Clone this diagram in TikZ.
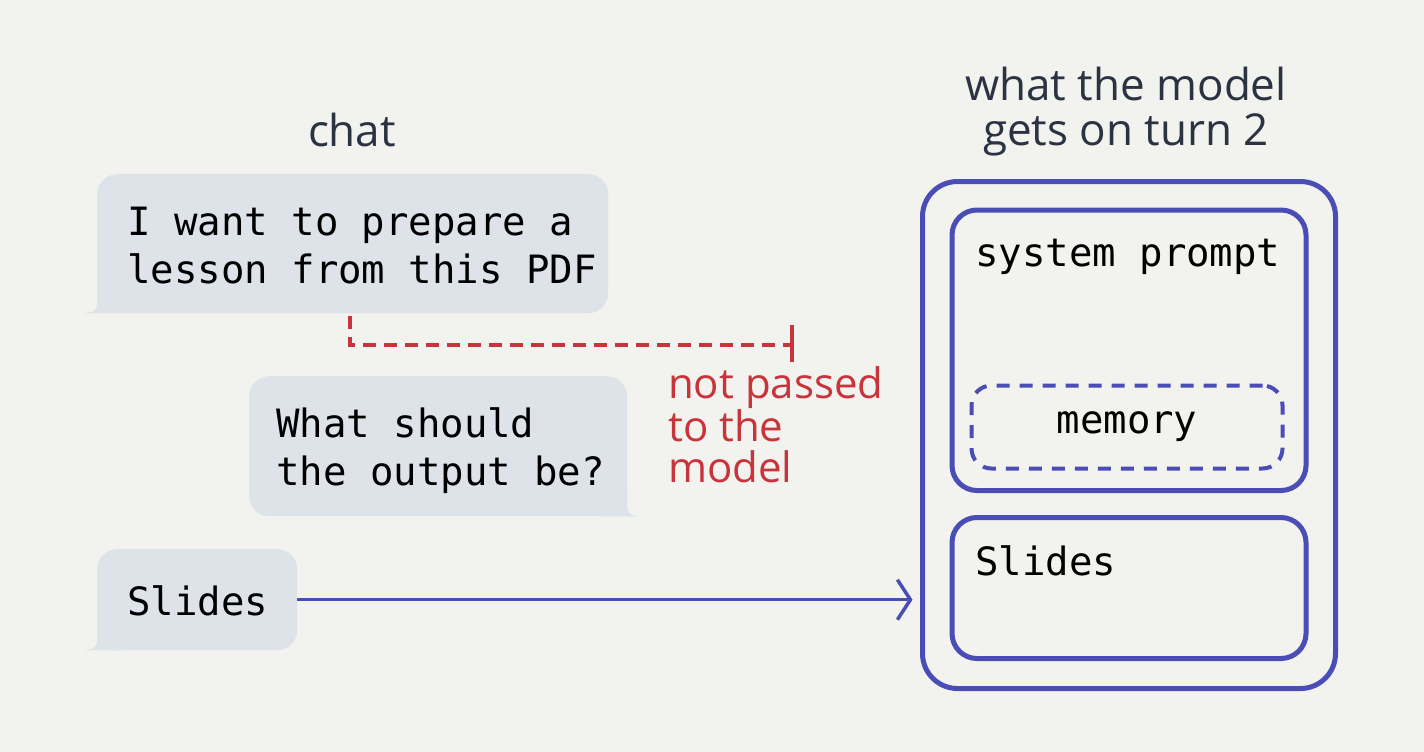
\documentclass[tikz,border=0pt]{standalone}
\usepackage{fontspec}
\setmainfont{Open Sans}
\newfontfamily\monofont{DejaVu Sans Mono}
\usetikzlibrary{arrows.meta,calc}
\definecolor{bg}{HTML}{F2F3EE}
\definecolor{bubblefill}{HTML}{DEE3EA}
\definecolor{ink}{HTML}{2B3242}
\definecolor{accent}{HTML}{4B4DB7}
\definecolor{stopred}{HTML}{C8343B}
\begin{document}
\begin{tikzpicture}[x=1pt,y=-1pt,
  bubble/.style={fill=bubblefill, rounded corners=20pt, inner sep=0pt, anchor=north west},
  bubbletext/.style={font=\monofont\fontsize{39}{48}\selectfont, align=left, text=black, inner sep=0pt, anchor=base west},
  heading/.style={font=\fontsize{44}{45}\selectfont, text=ink, align=center},
  redtext/.style={font=\fontsize{42}{41}\selectfont, text=stopred, align=left, inner sep=0pt},
  mono/.style={font=\monofont\fontsize{39}{48}\selectfont, text=black, inner sep=0pt},
  bluebox/.style={draw=accent, line width=5pt, anchor=north west, inner sep=0pt},
  flow/.style={draw=accent, line width=3.5pt, -{Straight Barb[length=13pt, width=40pt, line width=3.5pt]}},
  stopline/.style={draw=stopred, line width=3.2pt, dash pattern=on 13pt off 8pt}
]
\fill[bg] (0,0) rectangle (1424,752);
\useasboundingbox (0,0) rectangle (1424,752);

% headings
\node[heading, anchor=base] (chat) at (352,146) {chat};
\node[heading, anchor=base] (title) at (1126,145) {what the model\\gets on turn 2};

% bubbles
\node[bubble, minimum width=511pt, minimum height=139pt] (b1) at (97,174) {};
\fill[bubblefill] ($(b1.south west)+(0,-25)$) -- ($(b1.south west)+(0,-8)$)
  .. controls ($(b1.south west)+(-2,-2)$) .. ($(b1.south west)+(-14,0)$)
  -- ($(b1.south west)+(25,0)$) -- cycle;
\node[bubbletext] (t1) at (127,283) {I want to prepare a\\lesson from this PDF};

\node[bubble, minimum width=378pt, minimum height=140pt] (b2) at (249,376) {};
\fill[bubblefill] ($(b2.south east)+(0,-25)$) -- ($(b2.south east)+(0,-8)$)
  .. controls ($(b2.south east)+(2,-2)$) .. ($(b2.south east)+(11,0)$)
  -- ($(b2.south east)+(-25,0)$) -- cycle;
\node[bubbletext] (t2) at (276,485) {What should\\the output be?};

\node[bubble, minimum width=200pt, minimum height=101pt] (b3) at (97,549) {};
\fill[bubblefill] ($(b3.south west)+(0,-25)$) -- ($(b3.south west)+(0,-8)$)
  .. controls ($(b3.south west)+(-2,-2)$) .. ($(b3.south west)+(-14,0)$)
  -- ($(b3.south west)+(25,0)$) -- cycle;
\node[bubbletext] (t3) at (127,615) {Slides};

% model context
\node[bluebox, rounded corners=35pt, minimum width=413pt, minimum height=507pt] (outer) at (920,179) {};
\node[bluebox, rounded corners=25pt, minimum width=354pt, minimum height=280.5pt] (sys) at (949.5,207.5) {};
\node[bluebox, rounded corners=20pt, line width=4pt, dash pattern=on 13pt off 10pt, minimum width=311pt, minimum height=83pt] (mem) at (969.5,383.5) {};
\node[bluebox, rounded corners=25pt, minimum width=354pt, minimum height=141pt] (slot) at (949.5,515) {};

\node[mono, anchor=base west] (syst) at (975,266) {system prompt};
\node[mono, anchor=base] (memt) at ($(mem.center)+(0,6)$) {memory};
\node[mono, anchor=base west] (slidest) at (975,575) {Slides};

% not passed
\coordinate (stop) at (792,345);
\draw[stopline] ($(b1.south west)+(253,3)$) |- (stop);
\draw[stopred, line width=4pt] ($(stop)+(0,-20)$) -- ($(stop)+(0,17)$);
\node[redtext, anchor=base west] (np) at (668,482) {not passed\\to the\\model};

% passed
\draw[flow, shorten >=7.5pt] (b3.east) -- (b3.east -| outer.west);
\end{tikzpicture}
\end{document}
